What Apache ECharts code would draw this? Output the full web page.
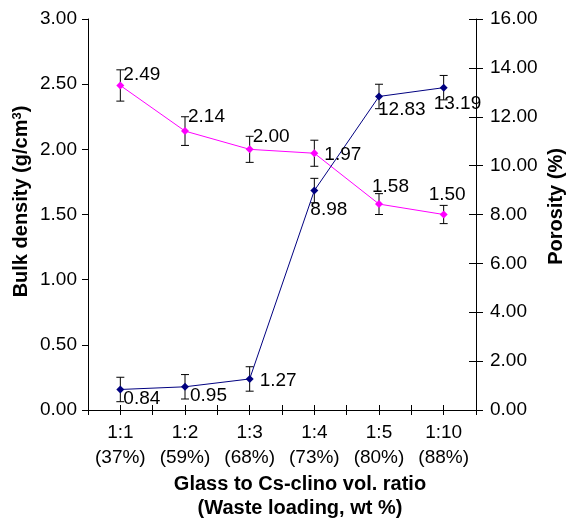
<!DOCTYPE html>
<html>
<head>
<meta charset="utf-8">
<script src="https://cdn.jsdelivr.net/npm/echarts@6/dist/echarts.min.js"></script>
<style>html,body{margin:0;padding:0;background:#fff}#c{width:566px;height:518px}</style>
</head>
<body>
<div id="c"></div>
<script>
var categories = ['1:1\n(37%)', '1:2\n(59%)', '1:3\n(68%)', '1:4\n(73%)', '1:5\n(80%)', '1:10\n(88%)'];
var bulkDensity = [2.49, 2.14, 2.00, 1.97, 1.58, 1.50];
var bulkError = [0.12, 0.11, 0.10, 0.10, 0.08, 0.07];
var porosity = [0.84, 0.95, 1.27, 8.98, 12.83, 13.19];
var porosityError = [0.5, 0.5, 0.5, 0.5, 0.5, 0.5];

// label placement (style, kept apart from data)
var bulkLabelOffsets = [[3,-11],[3,-14],[3,-13],[10,2],[-7,-17],[-15,-20]];
var porLabelOffsets = [[3,9],[5,9],[10,2],[-4,19],[-1,13],[-10,16]];

var FONT = 'Liberation Sans';
var FS = 19;
var chart = echarts.init(document.getElementById('c'));

function withLabels(values, offsets) {
  return values.map(function (v, i) {
    return {
      value: v,
      label: {
        show: true, position: 'inside', align: 'left', verticalAlign: 'middle',
        offset: offsets[i], formatter: function (p) { return p.value.toFixed(2); },
        color: '#000', fontSize: FS, fontFamily: FONT
      }
    };
  });
}

function errorSeries(values, errs, yIdx) {
  return {
    type: 'custom', xAxisIndex: 0, yAxisIndex: yIdx, z: 1, silent: true,
    data: values.map(function (v, i) { return [i, v - errs[i], v + errs[i]]; }),
    renderItem: function (params, api) {
      var lo = api.coord([api.value(0), api.value(1)]);
      var hi = api.coord([api.value(0), api.value(2)]);
      var w = 4;
      var st = { stroke: '#000', lineWidth: 1 };
      return { type: 'group', children: [
        { type: 'line', shape: { x1: lo[0], y1: lo[1], x2: hi[0], y2: hi[1] }, style: st },
        { type: 'line', shape: { x1: lo[0]-w, y1: lo[1], x2: lo[0]+w, y2: lo[1] }, style: st },
        { type: 'line', shape: { x1: hi[0]-w, y1: hi[1], x2: hi[0]+w, y2: hi[1] }, style: st }
      ]};
    }
  };
}

var axisLine = { show: true, lineStyle: { color: '#000', width: 1 } };
function xAx(showLabel, inside, align) {
  return {
    type: 'category', data: categories, position: 'bottom', boundaryGap: true,
    axisLine: showLabel ? axisLine : { show: false },
    axisTick: { show: true, inside: inside, alignWithLabel: align, interval: 0, length: 5, lineStyle: { color: '#000' } },
    axisLabel: showLabel ? { show: true, interval: 0, color: '#000', fontSize: FS, fontFamily: FONT, lineHeight: 25, margin: 10 } : { show: false },
    name: showLabel ? 'Glass to Cs-clino vol. ratio\n(Waste loading, wt %)' : '',
    nameLocation: 'middle', nameGap: 62, nameMoveOverlap: false,
    nameTextStyle: { color: '#000', fontSize: 20, fontWeight: 'bold', fontFamily: FONT, lineHeight: 24, padding: [0, 0, 0, 36] },
    splitLine: { show: false }
  };
}

chart.setOption({
  animation: false,
  grid: { left: 88, right: 90, top: 19, bottom: 108, outerBoundsMode: 'none', containLabel: false },
  xAxis: [xAx(true, false, false), xAx(false, true, false), xAx(false, false, true), xAx(false, true, true)],
  yAxis: [
    {
      type: 'value', position: 'left', min: 0, max: 3, interval: 0.5,
      axisLine: axisLine,
      axisTick: { show: true, length: 6, lineStyle: { color: '#000' } },
      axisLabel: { color: '#000', fontSize: FS, fontFamily: FONT, margin: 11, formatter: function (v) { return v.toFixed(2); } },
      splitLine: { show: false },
      name: 'Bulk density (g/cm{sup|3})', nameLocation: 'middle', nameGap: 56, nameRotate: 90, nameMoveOverlap: false,
      nameTextStyle: { color: '#000', fontSize: 20, fontWeight: 'bold', fontFamily: FONT, padding: [0, 0, 0, 26],
        rich: { sup: { fontSize: 13, fontWeight: 'bold', fontFamily: FONT, color: '#000', verticalAlign: 'top', padding: [0,0,8,0] } } }
    },
    {
      type: 'value', position: 'right', min: 0, max: 16, interval: 2,
      axisLine: axisLine,
      axisTick: { show: true, length: 7, lineStyle: { color: '#000' } },
      axisLabel: { color: '#000', fontSize: FS, fontFamily: FONT, margin: 14, formatter: function (v) { return v.toFixed(2); } },
      splitLine: { show: false },
      name: 'Porosity (%)', nameLocation: 'middle', nameGap: 70, nameRotate: 90, nameMoveOverlap: false,
      nameTextStyle: { color: '#000', fontSize: 20, fontWeight: 'bold', fontFamily: FONT, padding: [0, 0, 0, 16] }
    },
    {
      type: 'value', position: 'right', min: 0, max: 16, interval: 2,
      axisLine: { show: false },
      axisTick: { show: true, inside: true, length: 7, lineStyle: { color: '#000' } },
      axisLabel: { show: false }, splitLine: { show: false }
    }
  ],
  series: [
    errorSeries(bulkDensity, bulkError, 0),
    errorSeries(porosity, porosityError, 1),
    {
      type: 'line', name: 'Bulk density', xAxisIndex: 0, yAxisIndex: 0, z: 3,
      data: withLabels(bulkDensity, bulkLabelOffsets),
      symbol: 'diamond', symbolSize: 8, showAllSymbol: true,
      lineStyle: { color: '#FF00FF', width: 1 }, itemStyle: { color: '#FF00FF' }
    },
    {
      type: 'line', name: 'Porosity', xAxisIndex: 0, yAxisIndex: 1, z: 3,
      data: withLabels(porosity, porLabelOffsets),
      symbol: 'diamond', symbolSize: 8, showAllSymbol: true,
      lineStyle: { color: '#000080', width: 1 }, itemStyle: { color: '#000080' }
    }
  ]
});
</script>
</body>
</html>
